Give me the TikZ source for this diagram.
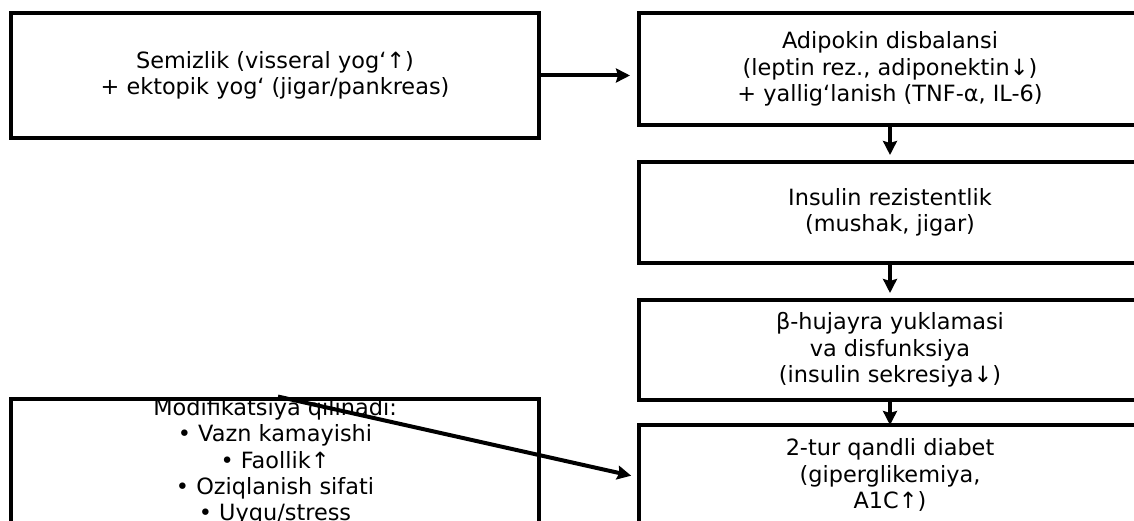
\documentclass[tikz,border=0pt]{standalone}
\usepackage{fontspec}
\setmainfont{DejaVu Sans}
\usetikzlibrary{arrows.meta}
\begin{document}
\begin{tikzpicture}[x=1pt,y=-1pt,
  box/.style={draw,line width=4pt,rectangle,align=center,inner sep=0pt,
    font=\fontsize{22.4}{26.3}\selectfont},
  arr/.style={line width=4pt,-{Stealth[length=14pt,width=14pt,inset=2pt]}}]
\useasboundingbox (0,0) rectangle (1134,521);
\clip (0,0) rectangle (1134,521);
\fill[white] (0,0) rectangle (1134,521);
\node[box,minimum width=528pt,minimum height=125pt] (b1) at (275,75.5)
  {Semizlik (visseral yog‘↑)\\+ ektopik yog‘ (jigar/pankreas)};
\node[box,minimum width=502pt,minimum height=112pt] (b2) at (890,69)
  {Adipokin disbalansi\\(leptin rez., adiponektin↓)\\+ yallig‘lanish (TNF-α, IL-6)};
\node[box,minimum width=502pt,minimum height=101pt] (b3) at (890,212.5)
  {Insulin rezistentlik\\(mushak, jigar)};
\node[box,minimum width=502pt,minimum height=100pt] (b4) at (890,350)
  {β-hujayra yuklamasi\\va disfunksiya\\(insulin sekresiya↓)};
\node[box,minimum width=502pt,minimum height=100pt] (b5) at (890,475)
  {2-tur qandli diabet\\(giperglikemiya,\\A1C↑)};
\node[box,minimum width=528pt,minimum height=124pt] (b6) at (275,462)
  {Modifikatsiya qilinadi:\\• Vazn kamayishi\\• Faollik↑\\• Oziqlanish sifati\\• Uyqu/stress};
\draw[arr,shorten >=7pt] (b1.east) -- (b2.west |- b1.east);
\draw[arr,shorten >=5pt] (b2.south) -- (b3.north);
\draw[arr,shorten >=5pt] (b3.south) -- (b4.north);
\draw[arr,shorten >=-2pt] (b4.south) -- (b5.north);
\draw[arr,shorten >=6pt] ([xshift=269pt]b6.north west) -- ([yshift=-2pt]b5.west);
\end{tikzpicture}
\end{document}
